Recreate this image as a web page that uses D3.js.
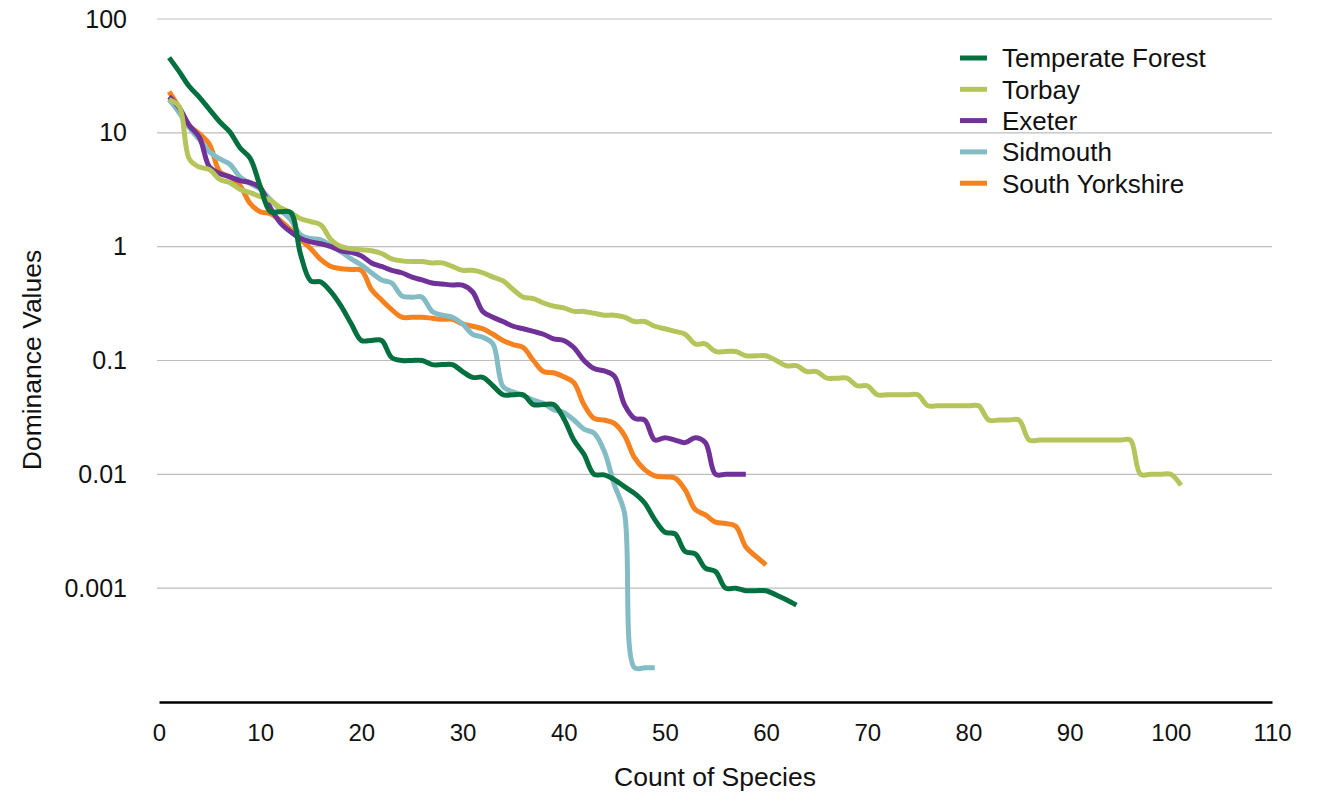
<!DOCTYPE html>
<html>
<head>
<meta charset="utf-8">
<script src="https://cdn.jsdelivr.net/npm/d3@7"></script>
<style>
  body { margin: 0; background: #fff; }
  text { font-family: "Liberation Sans", Arial, sans-serif; fill: #111; }
</style>
</head>
<body>
<div class="canvas"></div>
<script>
// series, in legend order
const seriesNames = ['Temperate Forest', 'Torbay', 'Exeter', 'Sidmouth', 'South Yorkshire']

const temperateForest = [45.8, 34.5, 25.5, 20.5, 16, 12.5, 10.2, 7.4, 6.0, 3.4,
  2.03, 2.03, 2.0, 0.85, 0.5, 0.49, 0.4, 0.3, 0.21, 0.15,
  0.15, 0.15, 0.106, 0.1, 0.1, 0.1, 0.092, 0.092, 0.092, 0.08,
  0.071, 0.071, 0.06, 0.05, 0.05, 0.05, 0.041, 0.041, 0.041, 0.031,
  0.02, 0.015, 0.01, 0.0099, 0.009, 0.0078, 0.0068, 0.0056, 0.004, 0.0031,
  0.003, 0.0021, 0.002, 0.0015, 0.0014, 0.001, 0.001, 0.00095, 0.00095, 0.00095,
  0.00087, 0.00079, 0.00071]

const torbay = [19.6, 17, 5.9, 5.0, 4.75, 3.9, 3.65, 3.2, 2.98, 2.75,
  2.55, 2.2, 2.0, 1.76, 1.66, 1.55, 1.15, 1.0, 0.96, 0.94,
  0.92, 0.87, 0.78, 0.75, 0.74, 0.74, 0.72, 0.72, 0.67, 0.62,
  0.62, 0.59, 0.54, 0.5, 0.42, 0.36, 0.35, 0.32, 0.3, 0.29,
  0.27, 0.27, 0.26, 0.25, 0.25, 0.24, 0.22, 0.22, 0.2, 0.19,
  0.18, 0.17, 0.14, 0.14, 0.12, 0.12, 0.12, 0.11, 0.11, 0.11,
  0.1, 0.09, 0.09, 0.08, 0.08, 0.07, 0.07, 0.07, 0.06, 0.06,
  0.05, 0.05, 0.05, 0.05, 0.05, 0.04, 0.04, 0.04, 0.04, 0.04,
  0.04, 0.03, 0.03, 0.03, 0.03, 0.02, 0.02, 0.02, 0.02, 0.02,
  0.02, 0.02, 0.02, 0.02, 0.02, 0.02, 0.01, 0.01, 0.01, 0.01,
  0.008]

const exeter = [20.8, 16.6, 11.6, 9.1, 5.0, 4.4, 4.1, 3.8, 3.65, 3.3,
  2.2, 1.62, 1.35, 1.18, 1.1, 1.06, 1.0, 0.92, 0.89, 0.83,
  0.72, 0.67, 0.62, 0.59, 0.54, 0.51, 0.48, 0.47, 0.46, 0.46,
  0.4, 0.27, 0.24, 0.22, 0.2, 0.19, 0.18, 0.17, 0.155, 0.15,
  0.13, 0.1, 0.085, 0.081, 0.073, 0.041, 0.031, 0.03, 0.02, 0.021,
  0.02, 0.019, 0.021, 0.019, 0.01, 0.01, 0.01, 0.01]

const sidmouth = [19.6, 15, 11.1, 8.7, 6.8, 5.9, 5.3, 4.1, 3.6, 3.2,
  2.6, 2.1, 1.73, 1.27, 1.18, 1.15, 1.02, 0.9, 0.78, 0.69,
  0.59, 0.51, 0.48, 0.37, 0.36, 0.36, 0.27, 0.25, 0.24, 0.21,
  0.17, 0.16, 0.14, 0.059, 0.053, 0.049, 0.045, 0.042, 0.037, 0.035,
  0.03, 0.025, 0.023, 0.016, 0.0081, 0.0046, 0.0002, 0.0002, 0.0002]

const southYorkshire = [23, 16.6, 11.6, 9.8, 7.9, 4.56, 4.1, 3.44, 2.4, 2.03,
  1.95, 1.69, 1.41, 1.15, 0.96, 0.77, 0.67, 0.64, 0.63, 0.62,
  0.42, 0.34, 0.28, 0.24, 0.24, 0.24, 0.235, 0.23, 0.23, 0.21,
  0.2, 0.19, 0.17, 0.15, 0.138, 0.13, 0.1, 0.08, 0.078, 0.072,
  0.064, 0.041, 0.031, 0.03, 0.028, 0.022, 0.014, 0.011, 0.0097, 0.0095,
  0.0093, 0.0073, 0.0049, 0.0044, 0.0038, 0.0037, 0.0035, 0.0023, 0.0019, 0.0016]

const yTickValues = [100, 10, 1, 0.1, 0.01, 0.001]
const yTickLabels = ['100', '10', '1', '0.1', '0.01', '0.001']
const xTickValues = [0, 10, 20, 30, 40, 50, 60, 70, 80, 90, 100, 110]

const colors = ['#04703f', '#b5c55b', '#703298', '#84bcc5', '#f6821f']

const series = [temperateForest, torbay, exeter, sidmouth, southYorkshire]
  .map((values, i) => ({
    name: seriesNames[i],
    color: colors[i],
    points: values.map((v, j) => ({ x: j + 1, y: v }))
  }))

const width = 1331
const height = 796

const svg = d3.select('.canvas')
  .append('svg')
    .attr('width', width)
    .attr('height', height)

const x = d3.scaleLinear()
  .domain([0, 110])
  .range([159, 1272])

const y = d3.scaleLog()
  .domain([0.0001, 100])
  .range([702, 19])

// horizontal gridlines
svg.append('g')
  .selectAll('line')
  .data(yTickValues)
  .enter()
  .append('line')
    .attr('x1', 157)
    .attr('x2', 1272)
    .attr('y1', d => y(d))
    .attr('y2', d => y(d))
    .attr('stroke', '#bdbdbd')
    .attr('stroke-width', 1.2)

// y axis
const yAxis = d3.axisLeft(y)
  .tickValues(yTickValues)
  .tickFormat((d, i) => yTickLabels[i])
  .tickSize(0)
  .tickPadding(30)

const yAxisGroup = svg.append('g')
  .attr('transform', 'translate(157, 0)')
  .call(yAxis)

yAxisGroup.select('.domain').remove()
yAxisGroup.selectAll('text')
  .attr('font-size', 25)
  .attr('font-family', '"Liberation Sans", Arial, sans-serif')
  .attr('fill', '#111')

// x axis
const xAxis = d3.axisBottom(x)
  .tickValues(xTickValues)
  .tickSize(0)
  .tickSizeOuter(0)
  .tickPadding(22)

const xAxisGroup = svg.append('g')
  .attr('transform', `translate(0, ${y(0.0001)})`)
  .call(xAxis)

xAxisGroup.select('.domain')
  .attr('stroke', '#000')
  .attr('stroke-width', 2.6)

xAxisGroup.selectAll('text')
  .attr('font-size', 24)
  .attr('font-family', '"Liberation Sans", Arial, sans-serif')
  .attr('fill', '#111')

// lines, first series drawn last
const line = d3.line()
  .x(d => x(d.x))
  .y(d => y(d.y))
  .curve(d3.curveCatmullRom.alpha(0.5))

svg.append('g')
  .selectAll('path')
  .data(series.slice().reverse())
  .enter()
  .append('path')
    .attr('d', d => line(d.points))
    .attr('fill', 'none')
    .attr('stroke', d => d.color)
    .attr('stroke-width', 5)
    .attr('stroke-linejoin', 'round')

// axis titles
svg.append('text')
  .attr('x', 715)
  .attr('y', 786)
  .attr('text-anchor', 'middle')
  .attr('font-size', 26.5)
  .text('Count of Species')

svg.append('text')
  .attr('transform', 'translate(41, 360) rotate(-90)')
  .attr('text-anchor', 'middle')
  .attr('font-size', 26.5)
  .text('Dominance Values')

// legend
const legend = svg.append('g')
  .selectAll('g')
  .data(series)
  .enter()
  .append('g')
    .attr('transform', (d, i) => `translate(960, ${58 + i * 31.3})`)

legend.append('line')
  .attr('x1', 0)
  .attr('x2', 27)
  .attr('stroke', d => d.color)
  .attr('stroke-width', 5)

legend.append('text')
  .attr('x', 42)
  .attr('dy', '0.36em')
  .attr('font-size', 26)
  .text(d => d.name)
</script>
</body>
</html>
